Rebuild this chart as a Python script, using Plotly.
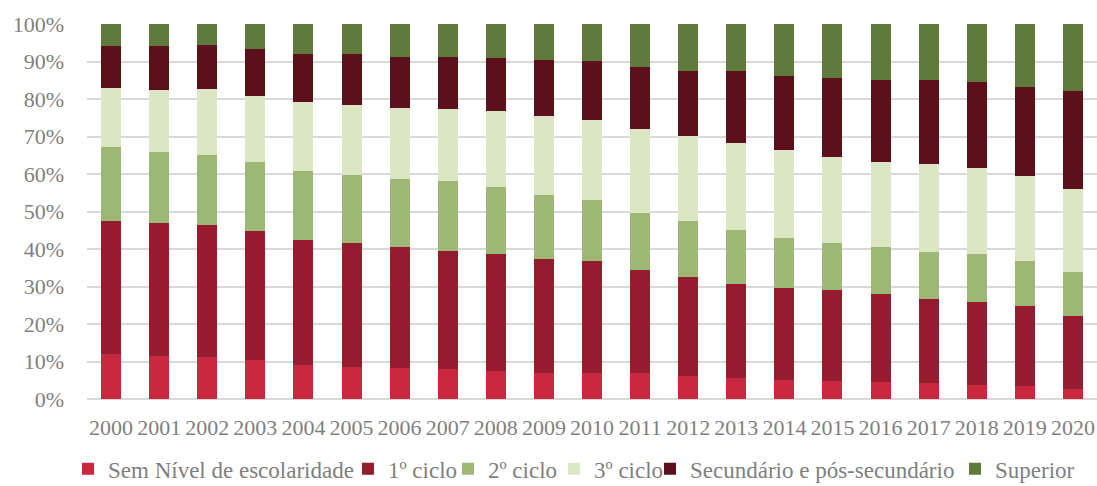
import plotly.graph_objects as go

years = [str(y) for y in range(2000, 2021)]

sem_nivel = [12.0, 11.5, 11.2, 10.4, 9.1, 8.5, 8.3, 8.0, 7.5, 6.9, 6.9, 6.9, 6.1, 5.6, 5.1, 4.8, 4.5, 4.3, 3.7, 3.5, 2.7]
ciclo1 = [35.5, 35.4, 35.2, 34.4, 33.3, 33.1, 32.2, 31.5, 31.2, 30.4, 29.9, 27.5, 26.4, 25.1, 24.5, 24.3, 23.5, 22.4, 22.2, 21.3, 19.4]
ciclo2 = [19.7, 19.0, 18.7, 18.4, 18.4, 18.1, 18.2, 18.6, 17.8, 17.1, 16.3, 15.2, 15.0, 14.4, 13.3, 12.5, 12.5, 12.5, 12.8, 12.0, 11.8]
ciclo3 = [15.7, 16.5, 17.6, 17.6, 18.4, 18.7, 18.9, 19.2, 20.3, 21.1, 21.3, 22.4, 22.6, 23.2, 23.5, 22.9, 22.7, 23.5, 22.9, 22.7, 22.1]
secundario = [11.2, 11.7, 11.7, 12.5, 12.8, 13.6, 13.6, 13.9, 14.1, 14.9, 15.7, 16.5, 17.4, 19.2, 19.7, 21.1, 21.9, 22.4, 22.9, 23.7, 26.1]
superior = [5.9, 5.9, 5.6, 6.7, 8.0, 8.0, 8.8, 8.8, 9.1, 9.6, 9.9, 11.5, 12.5, 12.5, 13.9, 14.4, 14.9, 14.9, 15.5, 16.8, 17.9]

names = ["Sem Nível de escolaridade", "1º ciclo", "2º ciclo", "3º ciclo",
         "Secundário e pós-secundário", "Superior"]
values = [sem_nivel, ciclo1, ciclo2, ciclo3, secundario, superior]
colors = ["#c9283f", "#951b2e", "#9db874", "#dde6c4", "#5c101b", "#5f7a3b"]

# legend placement (paper x, fraction of plot width) for each entry
legend_x = [-0.0188, 0.2584, 0.3574, 0.4624, 0.5574, 0.8594]

font = "Liberation Serif"
grey = "#7f7f7f"

fig = go.Figure()
legend_layout = {}
for i, (name, vals, color) in enumerate(zip(names, values, colors)):
    lname = "legend" if i == 0 else f"legend{i + 1}"
    fig.add_trace(go.Bar(
        x=years, y=[v / 100 for v in vals], name=name,
        marker=dict(color=color, line=dict(width=0)),
        legend=lname,
    ))
    legend_layout[lname] = dict(
        orientation="h", x=legend_x[i], xanchor="left", y=-0.186, yanchor="middle",
        font=dict(family=font, size=23, color=grey), itemwidth=30,
        bgcolor="rgba(0,0,0,0)",
    )

fig.update_layout(
    barmode="stack",
    bargap=0.584,
    width=1097, height=486,
    margin=dict(l=87, r=0, t=24, b=87, autoexpand=False),
    plot_bgcolor="white", paper_bgcolor="white",
    font=dict(family=font, size=22, color=grey),
    showlegend=True,
    xaxis=dict(showgrid=False, ticks="", tickfont=dict(size=22), showline=False,
               ticklabelstandoff=13),
    yaxis=dict(range=[0, 1], tickformat=".0%", dtick=0.1, showgrid=True,
               gridcolor="#d9d9d9", gridwidth=2, zeroline=True, zerolinecolor="#d9d9d9",
               zerolinewidth=2, ticks="", ticklabelstandoff=22, tickfont=dict(size=22)),
    **legend_layout,
)

# remove the browser's default page margin so the figure fills the window
fig.write_html(
    "out.html",
    config={"displayModeBar": False},
    post_script="document.body.style.margin='0';document.body.style.overflow='hidden';",
)
